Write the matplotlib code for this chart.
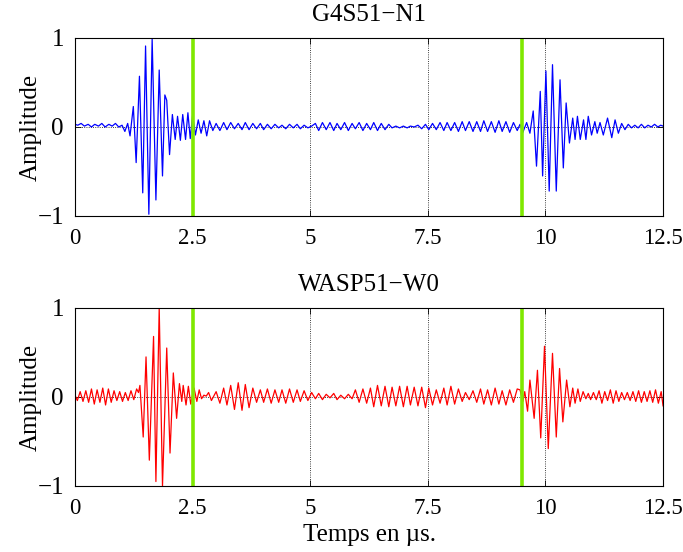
import matplotlib
matplotlib.use("Agg")
import matplotlib.pyplot as plt

plt.rcParams['font.family'] = ['Liberation Serif', 'DejaVu Serif']
plt.rcParams['font.size'] = 18

# signal extrema (time in us, amplitude)
t_mid = [3.00, 3.08, 3.16, 3.23, 3.31, 3.39, 3.47, 3.55, 3.62, 3.70, 3.78, 3.86,
         3.94, 4.01, 4.09, 4.17, 4.25, 4.33, 4.40, 4.48, 4.56, 4.64, 4.72, 4.79,
         4.87, 4.95, 5.03, 5.11, 5.18, 5.26, 5.34, 5.42, 5.50, 5.57, 5.65, 5.73,
         5.81, 5.89, 5.96, 6.04, 6.12, 6.20, 6.28, 6.35, 6.43, 6.51, 6.59, 6.67,
         6.74, 6.82, 6.90, 6.98, 7.06, 7.13, 7.21, 7.29, 7.37, 7.45, 7.52, 7.60,
         7.68, 7.76, 7.84, 7.91, 7.99, 8.07, 8.15, 8.23, 8.30, 8.38, 8.46, 8.54,
         8.62, 8.69, 8.77, 8.85, 8.93, 9.01, 9.08, 9.16, 9.24, 9.32, 9.40]

# G4S51-N1
t_top_a = [0.00, 0.06, 0.13, 0.20, 0.28, 0.35, 0.42, 0.50, 0.57, 0.64, 0.72, 0.79,
           0.86, 0.93, 1.00, 1.06, 1.12, 1.17,
           1.24, 1.30, 1.37, 1.44, 1.50, 1.57, 1.64, 1.72, 1.79, 1.86, 1.91, 1.95,
           2.01, 2.07, 2.13, 2.18, 2.24, 2.29, 2.35, 2.40, 2.45, 2.50, 2.56, 2.62,
           2.68, 2.74, 2.80, 2.86, 2.93]
v_top_a = [0.03, 0.02, 0.04, 0.01, 0.03, 0.00, 0.03, 0.01, 0.04, 0.00, 0.03, 0.01,
           0.04, 0.00, 0.02, -0.05, 0.04, -0.10,
           0.23, -0.40, 0.57, -0.74, 0.91, -0.98, 0.99, -0.82, 0.64, -0.55, 0.36, 0.30,
           -0.31, 0.14, -0.14, 0.12, -0.15, 0.14, -0.14, 0.16, -0.13, 0.13, -0.09, 0.08,
           -0.07, 0.07, -0.10, 0.07, -0.04]
v_top_mid = [0.04, -0.04, 0.05, -0.03, 0.05, -0.02, 0.04, -0.03, 0.05, -0.03, 0.04, -0.02,
             0.04, -0.03, 0.03, -0.02, 0.03, -0.01, 0.02, -0.02, 0.03, -0.01, 0.03, -0.02,
             0.02, -0.01, 0.01, 0.04, -0.04, 0.05, -0.03, 0.05, -0.04, 0.04, -0.03, 0.05,
             -0.04, 0.04, -0.02, 0.05, -0.04, 0.04, -0.03, 0.05, -0.04, 0.04, -0.03, 0.03,
             -0.01, 0.01, -0.01, 0.01, -0.01, 0.01, 0.00, 0.02, -0.02, 0.03, -0.03, 0.04,
             -0.03, 0.05, -0.04, 0.05, -0.04, 0.05, -0.05, 0.06, -0.04, 0.06, -0.05, 0.06,
             -0.05, 0.07, -0.05, 0.06, -0.06, 0.07, -0.05, 0.06, -0.06, 0.05, -0.04]
t_top_b = [9.46, 9.52, 9.60, 9.67, 9.74, 9.81, 9.89, 9.94, 10.01, 10.08, 10.15, 10.23,
           10.31, 10.38, 10.44, 10.51, 10.58, 10.63, 10.68, 10.74, 10.81, 10.86, 10.91,
           10.98, 11.05, 11.10, 11.16, 11.23, 11.32, 11.41, 11.48, 11.55, 11.62, 11.69,
           11.76, 11.83, 11.90, 11.97, 12.04, 12.11, 12.18, 12.25, 12.32, 12.39, 12.45, 12.50]
v_top_b = [0.03, -0.06, 0.05, -0.07, 0.18, -0.44, 0.40, -0.55, 0.63, -0.72, 0.70, -0.72,
           0.53, -0.46, 0.27, -0.18, 0.10, -0.14, 0.12, -0.14, 0.08, -0.14, 0.12,
           -0.09, 0.06, -0.07, 0.05, -0.09, 0.10, -0.12, 0.08, -0.07, 0.04, -0.03,
           0.03, -0.01, 0.02, -0.01, 0.03, -0.01, 0.02, 0.00, 0.03, 0.00, 0.02, 0.01]

# WASP51-W0
t_bot_a = [0.00, 0.05, 0.11, 0.17, 0.23, 0.29, 0.35, 0.41, 0.47, 0.53, 0.59, 0.65,
           0.71, 0.77, 0.83, 0.89, 0.95, 1.01, 1.07, 1.13, 1.19, 1.25, 1.31, 1.35,
           1.38, 1.45, 1.51, 1.58, 1.67, 1.72, 1.79, 1.86, 1.95, 2.02, 2.09, 2.16,
           2.22, 2.27, 2.30, 2.36, 2.41, 2.46, 2.53, 2.59, 2.64, 2.69, 2.74, 2.79,
           2.84, 2.90]
v_bot_a = [0.02, -0.04, 0.06, -0.05, 0.07, -0.06, 0.09, -0.08, 0.08, -0.06, 0.10, -0.09,
           0.09, -0.06, 0.07, -0.04, 0.06, -0.05, 0.05, -0.04, 0.07, -0.03, 0.09, 0.05,
           0.13, -0.45, 0.45, -0.71, 0.68, -0.95, 1.00, -1.00, 0.55, -0.63, 0.27, -0.24,
           0.15, -0.05, 0.13, -0.09, 0.12, -0.08, 0.10, -0.05, 0.08, -0.02, 0.02, 0.01,
           0.05, -0.04]
v_bot_mid = [0.06, -0.07, 0.10, -0.09, 0.13, -0.14, 0.16, -0.15, 0.14, -0.12, 0.10, -0.06,
             0.08, -0.06, 0.09, -0.07, 0.08, -0.06, 0.08, -0.07, 0.09, -0.06, 0.08, -0.05,
             0.07, -0.04, 0.05, -0.02, 0.04, -0.03, 0.03, -0.01, 0.04, -0.03, 0.02, -0.02,
             0.03, -0.02, 0.08, -0.06, 0.09, -0.07, 0.10, -0.11, 0.13, -0.10, 0.12, -0.11,
             0.11, -0.10, 0.12, -0.11, 0.12, -0.09, 0.11, -0.10, 0.11, -0.12, 0.10, -0.09,
             0.08, -0.07, 0.10, -0.09, 0.12, -0.08, 0.09, -0.05, 0.05, -0.03, 0.07, -0.06,
             0.09, -0.08, 0.08, -0.09, 0.10, -0.08, 0.07, -0.09, 0.08, -0.06, 0.09]
t_bot_b = [9.46, 9.52, 9.56, 9.62, 9.67, 9.76, 9.83, 9.90, 9.98, 10.06, 10.15, 10.23,
           10.30, 10.37, 10.45, 10.52, 10.58, 10.63, 10.69, 10.74, 10.80, 10.86, 10.91,
           10.96, 11.02, 11.08, 11.14, 11.20, 11.26, 11.32, 11.38, 11.44, 11.50, 11.56,
           11.62, 11.68, 11.74, 11.80, 11.86, 11.92, 11.98, 12.04, 12.10, 12.16, 12.22,
           12.28, 12.34, 12.40, 12.46, 12.50]
v_bot_b = [0.08, -0.05, 0.06, -0.16, 0.19, -0.24, 0.30, -0.46, 0.57, -0.58, 0.49, -0.45,
           0.32, -0.28, 0.19, -0.11, 0.10, -0.07, 0.09, -0.05, 0.06, -0.02, 0.04,
           -0.03, 0.05, -0.03, 0.07, -0.07, 0.06, -0.04, 0.08, -0.07, 0.07, -0.05,
           0.05, -0.03, 0.05, -0.04, 0.06, -0.05, 0.07, -0.06, 0.06, -0.05, 0.07,
           -0.06, 0.08, -0.07, 0.06, -0.10]

markers = [2.5, 9.5]
xticks = [0, 2.5, 5, 7.5, 10, 12.5]
xticklabels = ['0', '2.5', '5', '7.5', '10', '12.5']

fig = plt.figure(figsize=(6.83, 5.52), dpi=100)
ax1 = fig.add_axes([0.1098, 0.6087, 0.861, 0.3225])
ax2 = fig.add_axes([0.1098, 0.1196, 0.861, 0.3225])

panels = [
    (ax1, t_top_a + t_mid + t_top_b, v_top_a + v_top_mid + v_top_b, 'blue', 'G4S51\u2212N1'),
    (ax2, t_bot_a + t_mid + t_bot_b, v_bot_a + v_bot_mid + v_bot_b, 'red', 'WASP51\u2212W0'),
]

for ax, t, v, col, title in panels:
    ax.plot(t, v, color=col, linewidth=0.9, solid_joinstyle='round')
    for m in markers:
        ax.axvline(m, color='#7fe800', linewidth=2.6)
    ax.set_xlim(0, 12.5)
    ax.set_ylim(-1, 1)
    ax.set_xticks(xticks)
    ax.set_xticklabels(xticklabels)
    ax.set_yticks([-1, 0, 1])
    ax.grid(True, color='black', linestyle=':', linewidth=0.6)
    ax.tick_params(direction='in', top=True, right=True, length=4, width=0.6)
    ax.tick_params(axis='x', pad=9, labelsize=16.5)
    ax.tick_params(axis='y', pad=8)
    for s in ax.spines.values():
        s.set_linewidth(0.8)
    ax.set_ylabel('Amplitude')
    ax.yaxis.set_label_coords(-0.056, 0.5)
    ax.set_title(title, fontsize=18, pad=12)

ax2.set_xlabel('Temps en \u00b5s.', labelpad=3)

fig.savefig('out.png', dpi=100)
